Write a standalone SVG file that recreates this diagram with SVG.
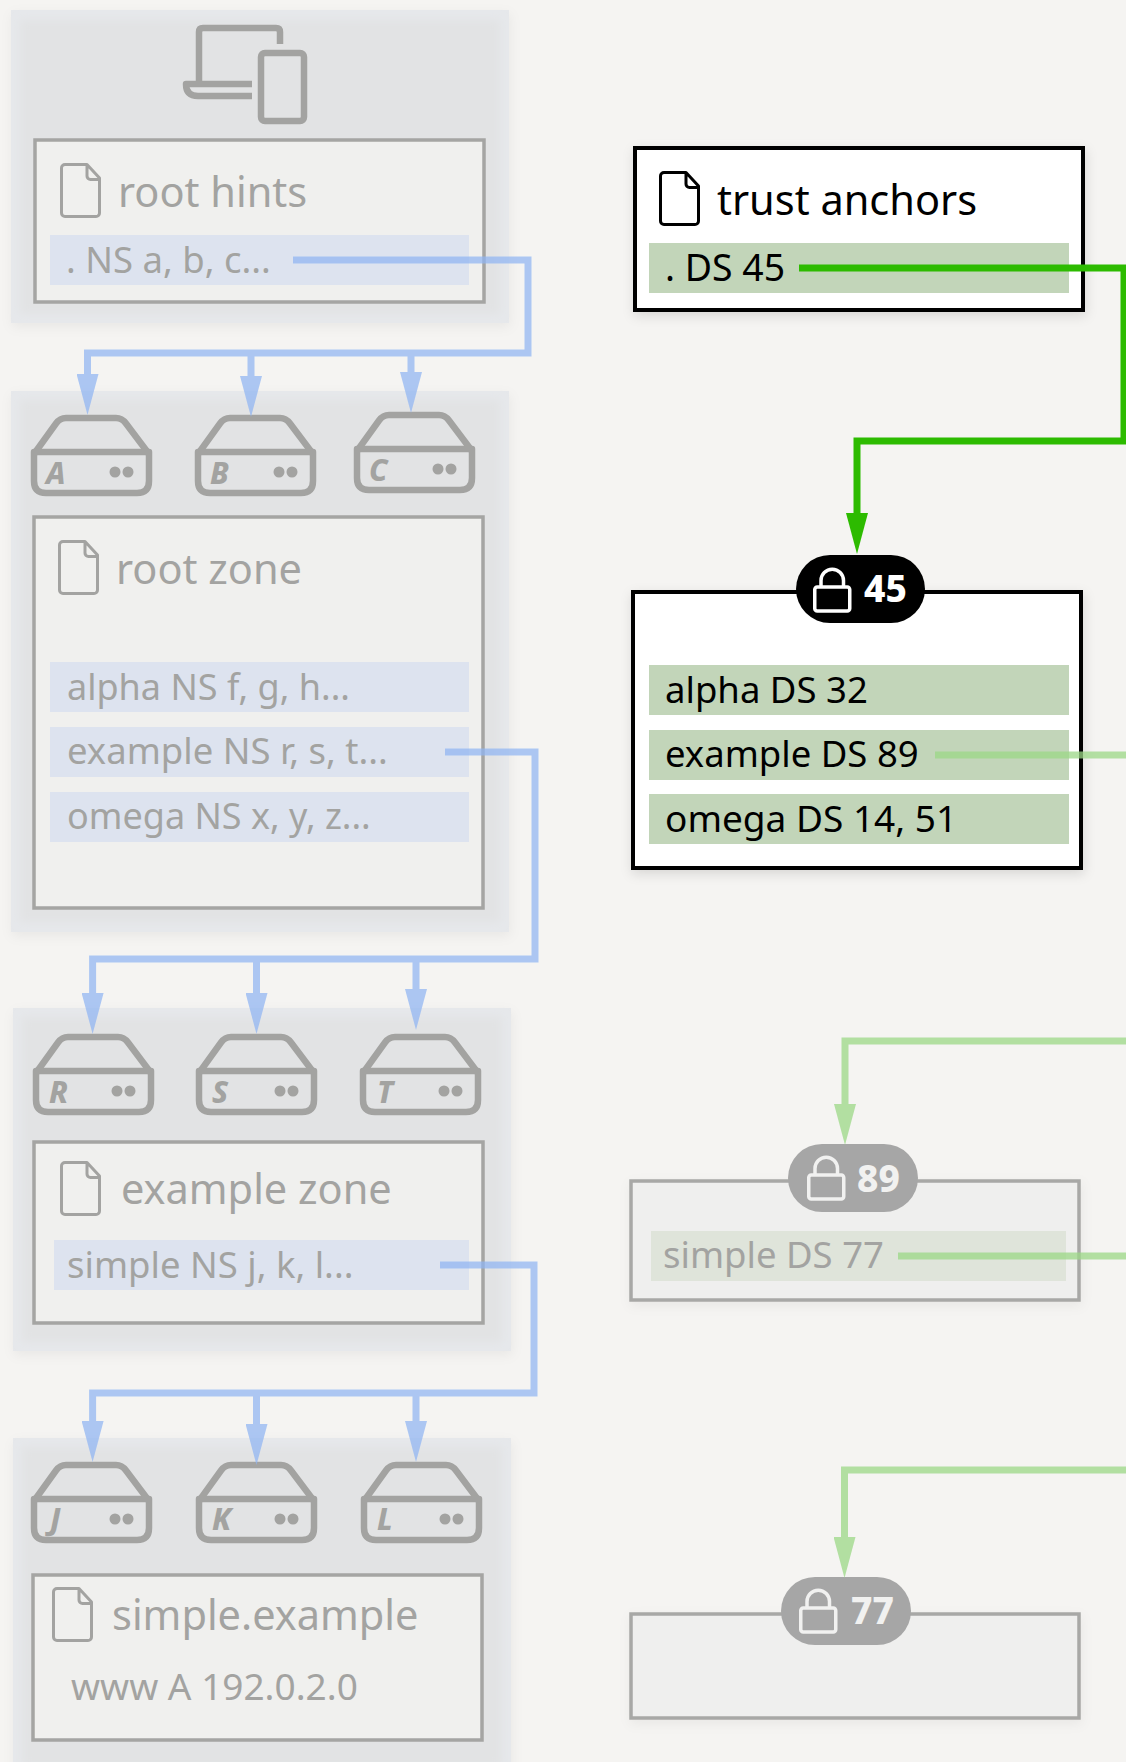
<svg xmlns="http://www.w3.org/2000/svg" width="1126" height="1762" viewBox="0 0 1126 1762">
<style>
text{font-family:"Noto Sans","Open Sans",sans-serif}
.title{font-size:41.500px}
.row{font-size:36.500px}
.f{fill:#a3a3a1}
.k{fill:#000}
.panel{fill:#e6e8eb}
.core{fill:#e2e3e4}
.boxf{fill:#f0f0ee;stroke:#a5a5a3;stroke-width:3.5}
.boxk{fill:#fff;stroke:#000;stroke-width:4}
.boxg{fill:#efefee;stroke:#a8a8a6;stroke-width:3.5}
.rb{fill:#dde3ef}
.rg{fill:#c2d5b9}
.rl{fill:#dfe4da}
.ltr{font-size:30px;font-weight:800;font-style:italic;fill:#a3a3a1}
.num{font-size:37px;font-weight:800}
.line{fill:none;stroke-width:7}
.blue{stroke:#90b5f3;opacity:.72}
.ic{fill:none;stroke-width:3;stroke-linejoin:round}
</style>
<defs>
<filter id="sh" x="-10%" y="-10%" width="120%" height="125%"><feDropShadow dx="1" dy="4" stdDeviation="6" flood-color="#000" flood-opacity=".12"/></filter>
<filter id="shf" x="-10%" y="-10%" width="120%" height="125%"><feDropShadow dx="1" dy="4" stdDeviation="6" flood-color="#000" flood-opacity=".05"/></filter>
<filter id="bl" x="-10%" y="-10%" width="120%" height="120%"><feGaussianBlur stdDeviation="4"/></filter>
<marker id="mb" markerUnits="userSpaceOnUse" markerWidth="41" markerHeight="22" viewBox="0 0 41 22" refX="0" refY="11" orient="auto"><path d="M0 0L41 11L0 22Z" fill="#90b5f3"/></marker>
<marker id="mg" markerUnits="userSpaceOnUse" markerWidth="41" markerHeight="22" viewBox="0 0 41 22" refX="0" refY="11" orient="auto"><path d="M0 0L41 11L0 22Z" fill="#2dbb00"/></marker>
<marker id="ml" markerUnits="userSpaceOnUse" markerWidth="41" markerHeight="22" viewBox="0 0 41 22" refX="0" refY="11" orient="auto"><path d="M0 0L41 11L0 22Z" fill="#9cd887"/></marker>
<g id="doc"><path d="M27 1.5H5A3.5 3.5 0 0 0 1.500 5V50A3.500 3.500 0 0 0 5 53.500H36A3.500 3.500 0 0 0 39.500 50V15L27 1.500V13A3.500 3.500 0 0 0 30.500 16.500H39.500"/></g>
<g id="srv" fill="none" stroke="#a3a3a1" stroke-width="6.500" stroke-linejoin="round"><path d="M3 39L25 8.500Q29 3 35 3H85Q91 3 95 8.500L118 39"/><path d="M3 37H118V66Q118 78 106 78H15Q3 78 3 66Z"/><circle cx="84" cy="57" r="5.500" fill="#a3a3a1" stroke="none"/><circle cx="97" cy="57" r="5.500" fill="#a3a3a1" stroke="none"/></g>
<g id="lock" fill="none" stroke-width="3.500" stroke-linejoin="round"><rect x="1.750" y="20" width="35" height="24" rx="2.500"/><path d="M8 20V13.500A11.200 11.200 0 0 1 30.500 13.500V20"/></g>
</defs>
<rect width="1126" height="1762" fill="#f5f4f2"/>

<g id="client">
<rect class="panel" x="11" y="10" width="498" height="313" filter="url(#shf)"/>
<rect class="core" x="20" y="20" width="480" height="294" filter="url(#bl)"/>
<g fill="none" stroke="#a3a3a1" stroke-width="6.500" stroke-linejoin="round"><path d="M199 81V32Q199 28 203 28H276Q280 28 280 32V44"/><path d="M252 84H186Q186 96 198 96H252"/><rect x="261" y="53" width="43" height="68" rx="4"/></g>
</g>
<g id="root-hints">
<rect class="boxf" x="35" y="140" width="449" height="162"/>
<use href="#doc" x="60" y="163" class="ic" stroke="#a3a3a1"/>
<text class="title f" x="118" y="207">root hints</text>
<rect class="rb" x="50" y="235" width="419" height="50"/>
<text class="row f" x="66" y="273">. NS a, b, c...</text>
</g>

<g id="root-zone">
<rect class="panel" x="11" y="391" width="498" height="541" filter="url(#shf)"/>
<rect class="core" x="20" y="400" width="480" height="522" filter="url(#bl)"/>
<g id="srv-a"><use href="#srv" x="31" y="415"/><text class="ltr" x="46" y="484">A</text></g>
<g id="srv-b"><use href="#srv" x="195" y="415"/><text class="ltr" x="210" y="484">B</text></g>
<g id="srv-c"><use href="#srv" x="354" y="412"/><text class="ltr" x="369" y="481">C</text></g>
<rect class="boxf" x="34" y="517" width="449" height="391"/>
<use href="#doc" x="58" y="540" class="ic" stroke="#a3a3a1"/>
<text class="title f" x="116" y="584">root zone</text>
<rect class="rb" x="50" y="662" width="419" height="50"/>
<text class="row f" x="67" y="700" style="font-size:36px">alpha NS f, g, h...</text>
<rect class="rb" x="50" y="727" width="419" height="50"/>
<text class="row f" x="67" y="764">example NS r, s, t...</text>
<rect class="rb" x="50" y="792" width="419" height="50"/>
<text class="row f" x="67" y="829" style="font-size:36px">omega NS x, y, z...</text>
</g>

<g id="example-zone">
<rect class="panel" x="13" y="1008" width="498" height="343" filter="url(#shf)"/>
<rect class="core" x="22" y="1017" width="480" height="325" filter="url(#bl)"/>
<g id="srv-r"><use href="#srv" x="33" y="1034"/><text class="ltr" x="49" y="1103">R</text></g>
<g id="srv-s"><use href="#srv" x="196" y="1034"/><text class="ltr" x="212" y="1103">S</text></g>
<g id="srv-t"><use href="#srv" x="360" y="1034"/><text class="ltr" x="377" y="1103">T</text></g>
<rect class="boxf" x="34" y="1142" width="449" height="181"/>
<use href="#doc" x="60" y="1161" class="ic" stroke="#a3a3a1"/>
<text class="title f" x="121" y="1204">example zone</text>
<rect class="rb" x="54" y="1240" width="415" height="50"/>
<text class="row f" x="67" y="1278">simple NS j, k, l...</text>
</g>

<g id="simple-zone">
<rect class="panel" x="13" y="1438" width="498" height="340" filter="url(#shf)"/>
<rect class="core" x="22" y="1447" width="480" height="320" filter="url(#bl)"/>
<g id="srv-j"><use href="#srv" x="31" y="1462"/><text class="ltr" x="50" y="1530">J</text></g>
<g id="srv-k"><use href="#srv" x="196" y="1462"/><text class="ltr" x="212" y="1530">K</text></g>
<g id="srv-l"><use href="#srv" x="361" y="1462"/><text class="ltr" x="377" y="1530">L</text></g>
<rect class="boxf" x="33" y="1575" width="449" height="165"/>
<use href="#doc" x="52" y="1587" class="ic" stroke="#a3a3a1"/>
<text class="title f" x="112" y="1630">simple.example</text>
<text class="row f" x="71" y="1700" style="font-size:37px">www A 192.0.2.0</text>
</g>

<g id="trust-anchors">
<rect class="boxk" x="635" y="148" width="448" height="162" filter="url(#sh)"/>
<use href="#doc" x="659" y="171" class="ic" stroke="#000"/>
<text class="title k" x="717" y="215">trust anchors</text>
<rect class="rg" x="649" y="243" width="420" height="50"/>
<text class="row k" x="665" y="281" style="font-size:37.400px">. DS 45</text>
</g>

<g id="root-signed">
<rect class="boxk" x="633" y="592" width="448" height="276" filter="url(#sh)"/>
<rect class="rg" x="649" y="665" width="420" height="50"/>
<text class="row k" x="665" y="703">alpha DS 32</text>
<rect class="rg" x="649" y="730" width="420" height="50"/>
<text class="row k" x="665" y="767">example DS 89</text>
<rect class="rg" x="649" y="794" width="420" height="50"/>
<text class="row k" x="665" y="832" style="font-size:37px">omega DS 14, 51</text>
<rect x="796" y="555" width="129" height="68" rx="34" fill="#000"/>
<use href="#lock" x="813" y="567" stroke="#fff"/>
<text class="num" x="864" y="602" fill="#fff">45</text>
</g>

<g id="example-signed">
<rect class="boxg" x="631" y="1181" width="448" height="119" filter="url(#shf)"/>
<rect class="rl" x="651" y="1231" width="415" height="50"/>
<text class="row f" x="663" y="1268">simple DS 77</text>
<rect x="788" y="1144" width="130" height="68" rx="34" fill="#a6a6a6"/>
<use href="#lock" x="807" y="1155" stroke="#f1f1f0"/>
<text class="num" x="857" y="1192" fill="#f1f1f0">89</text>
</g>

<g id="simple-signed">
<rect class="boxg" x="631" y="1614" width="448" height="104" filter="url(#shf)"/>
<rect x="781" y="1577" width="130" height="68" rx="34" fill="#a6a6a6"/>
<use href="#lock" x="799" y="1588" stroke="#f1f1f0"/>
<text class="num" x="851" y="1624" fill="#f1f1f0">77</text>
</g>

<g id="connectors">
<g class="blue">
<path class="line" stroke="#90b5f3" d="M293 260H528V353H87.500V374" marker-end="url(#mb)"/>
<path class="line" stroke="#90b5f3" d="M251 356V376" marker-end="url(#mb)"/>
<path class="line" stroke="#90b5f3" d="M411 356V372" marker-end="url(#mb)"/>
</g>
<g class="blue">
<path class="line" stroke="#90b5f3" d="M445 752H535V959H92.600V993" marker-end="url(#mb)"/>
<path class="line" stroke="#90b5f3" d="M256.500 962V993" marker-end="url(#mb)"/>
<path class="line" stroke="#90b5f3" d="M416 962V989" marker-end="url(#mb)"/>
</g>
<g class="blue">
<path class="line" stroke="#90b5f3" d="M440 1265H534V1393H92.600V1421" marker-end="url(#mb)"/>
<path class="line" stroke="#90b5f3" d="M256.500 1396V1424" marker-end="url(#mb)"/>
<path class="line" stroke="#90b5f3" d="M416 1396V1421" marker-end="url(#mb)"/>
</g>
<path class="line" stroke="#2dbb00" d="M799 268H1124V441H857V513" marker-end="url(#mg)"/>
<g opacity=".75">
<path class="line" stroke="#9cd887" d="M935 755H1135V1041H845V1104" marker-end="url(#ml)"/>
<path class="line" stroke="#9cd887" d="M898 1256H1135V1470H844.500V1537" marker-end="url(#ml)"/>
</g>
</g>
</svg>
